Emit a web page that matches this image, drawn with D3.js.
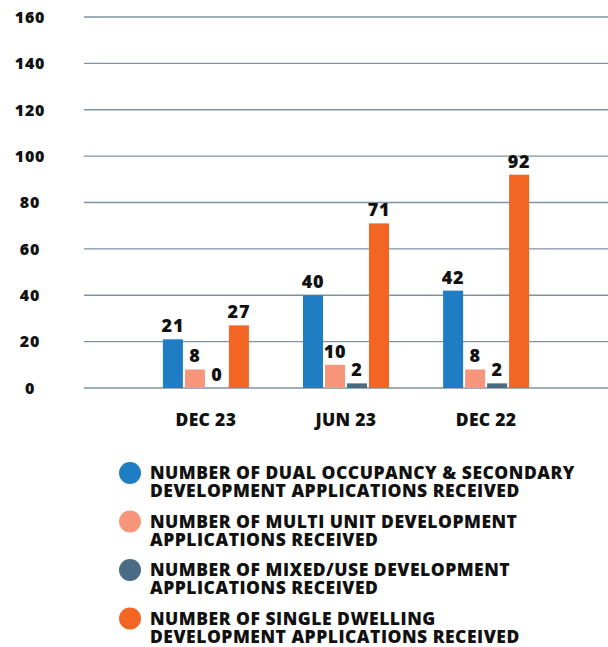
<!DOCTYPE html>
<html>
<head>
<meta charset="utf-8">
<script src="https://cdn.jsdelivr.net/npm/d3@7"></script>
<style>
  body { margin: 0; background: #fff; }
  svg text { font-family: "Open Sans", sans-serif; font-weight: 800; fill: #111; }
</style>
</head>
<body>
<div id="chart"></div>
<script>
// data
var periods = ["DEC 23", "JUN 23", "DEC 22"];
var seriesNames = [
  "NUMBER OF DUAL OCCUPANCY & SECONDARY DEVELOPMENT APPLICATIONS RECEIVED",
  "NUMBER OF MULTI UNIT DEVELOPMENT APPLICATIONS RECEIVED",
  "NUMBER OF MIXED/USE DEVELOPMENT APPLICATIONS RECEIVED",
  "NUMBER OF SINGLE DWELLING DEVELOPMENT APPLICATIONS RECEIVED"
];
var legendLines = [
  ["NUMBER OF DUAL OCCUPANCY & SECONDARY", "DEVELOPMENT APPLICATIONS RECEIVED"],
  ["NUMBER OF MULTI UNIT DEVELOPMENT", "APPLICATIONS RECEIVED"],
  ["NUMBER OF MIXED/USE DEVELOPMENT", "APPLICATIONS RECEIVED"],
  ["NUMBER OF SINGLE DWELLING", "DEVELOPMENT APPLICATIONS RECEIVED"]
];
var dualOcc = [21, 40, 42];
var multiUnit = [8, 10, 8];
var mixedUse = [0, 2, 2];
var singleDwelling = [27, 71, 92];
var yTicks = [0, 20, 40, 60, 80, 100, 120, 140, 160];
var colors = ["#1f7dc3", "#f7967a", "#4b6a84", "#f26522"];

var values = [dualOcc, multiUnit, mixedUse, singleDwelling];

var width = 608, height = 647;

var svg = d3.select("#chart")
  .append("svg")
  .attr("width", width)
  .attr("height", height);

// scales
var y = d3.scaleLinear()
  .domain([0, 160])
  .range([388, 17]);

var x0 = d3.scaleBand()
  .domain(periods)
  .range([84, 608])
  .paddingInner(0)
  .paddingOuter(0.37);

var x1 = d3.scaleBand()
  .domain(d3.range(seriesNames.length))
  .range([0, 86])
  .paddingInner(0.09)
  .paddingOuter(0);

// grid lines
svg.append("g")
  .selectAll("line")
  .data(yTicks)
  .enter()
  .append("line")
  .attr("x1", 84)
  .attr("x2", 608)
  .attr("y1", function(d) { return y(d); })
  .attr("y2", function(d) { return y(d); })
  .attr("stroke", "#7d92a6")
  .attr("stroke-width", 1.3);

// y axis labels
svg.append("g")
  .selectAll("text")
  .data(yTicks)
  .enter()
  .append("text")
  .attr("x", 30)
  .attr("y", function(d) { return y(d); })
  .attr("dy", "0.36em")
  .attr("text-anchor", "middle")
  .style("font-size", "16px")
  .style("letter-spacing", "0.8px")
  .text(function(d) { return d; });

// x axis labels
svg.append("g")
  .selectAll("text")
  .data(periods)
  .enter()
  .append("text")
  .attr("x", function(d) { return x0(d) + x0.bandwidth() / 2; })
  .attr("y", 426)
  .attr("text-anchor", "middle")
  .style("font-size", "17.5px")
  .style("letter-spacing", "0.3px")
  .text(function(d) { return d; });

// bars
var groups = svg.append("g")
  .selectAll("g")
  .data(periods)
  .enter()
  .append("g")
  .attr("transform", function(d) {
    return "translate(" + (x0(d) + (x0.bandwidth() - 86) / 2) + ",0)";
  });

groups.selectAll("rect")
  .data(function(d, i) { return values.map(function(s, k) { return {k: k, v: s[i]}; }); })
  .enter()
  .append("rect")
  .attr("x", function(d) { return x1(d.k); })
  .attr("width", x1.bandwidth())
  .attr("y", function(d) { return y(d.v); })
  .attr("height", function(d) { return y(0) - y(d.v); })
  .attr("fill", function(d) { return colors[d.k]; });

groups.selectAll("text")
  .data(function(d, i) { return values.map(function(s, k) { return {k: k, v: s[i]}; }); })
  .enter()
  .append("text")
  .attr("x", function(d) { return x1(d.k) + x1.bandwidth() / 2; })
  .attr("y", function(d) { return y(d.v) - 7; })
  .attr("text-anchor", "middle")
  .style("font-size", "18px")
  .style("letter-spacing", "0.8px")
  .text(function(d) { return d.v; });

// legend
var legend = svg.append("g")
  .selectAll("g")
  .data(seriesNames)
  .enter()
  .append("g")
  .attr("transform", function(d, i) { return "translate(0," + (473 + i * 48.5) + ")"; });

legend.append("circle")
  .attr("cx", 130)
  .attr("cy", 0)
  .attr("r", 11)
  .attr("fill", function(d, i) { return colors[i]; });

legend.selectAll("text")
  .data(function(d, i) { return legendLines[i]; })
  .enter()
  .append("text")
  .attr("x", 150)
  .attr("y", function(d, j) { return 6 + j * 18; })
  .style("font-size", "17.5px")
  .style("letter-spacing", "0.5px")
  .text(function(d) { return d; });
</script>
</body>
</html>
